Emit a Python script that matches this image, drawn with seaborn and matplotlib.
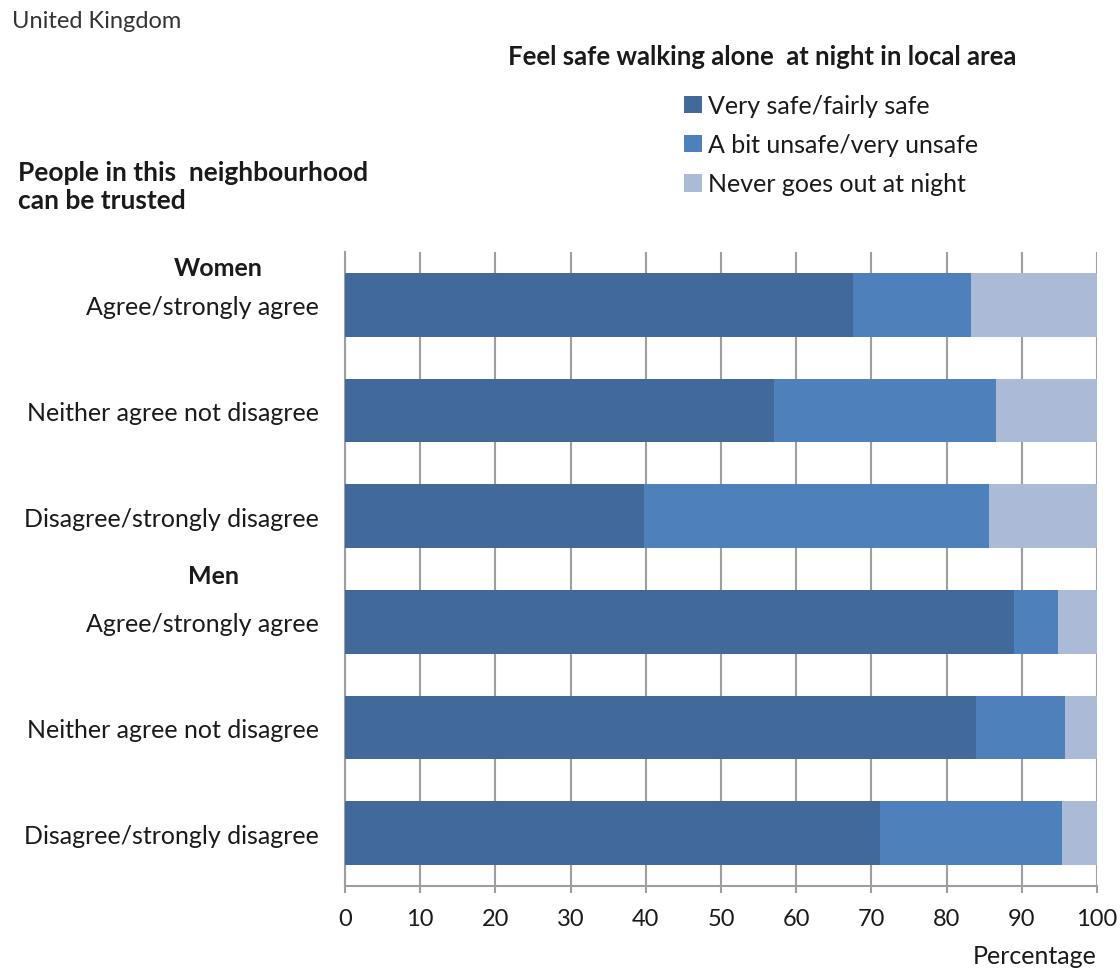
import matplotlib
matplotlib.use("Agg")
import matplotlib.pyplot as plt
import seaborn as sns
import pandas as pd
import numpy as np
from matplotlib.patches import Patch

categories = ["Agree/strongly agree", "Neither agree not disagree", "Disagree/strongly disagree",
              "Agree/strongly agree", "Neither agree not disagree", "Disagree/strongly disagree"]
groups = ["Women", "Women", "Women", "Men", "Men", "Men"]
very_safe = [67.6, 57.0, 39.7, 89.0, 83.9, 71.1]
unsafe = [15.7, 29.6, 46.0, 5.8, 11.9, 24.2]
never_out = [16.7, 13.4, 14.3, 5.2, 4.2, 4.7]
series_names = ["Very safe/fairly safe", "A bit unsafe/very unsafe", "Never goes out at night"]
colors = ["#41699A", "#4E80BC", "#AABAD7"]

sns.set_theme(style="white")
plt.rcParams['font.family'] = ['Lato', 'DejaVu Sans']

keys = [f"{g}-{i}" for i, g in enumerate(groups)]
df = pd.DataFrame({"key": keys, "cat": categories,
                   "s1": very_safe, "s2": unsafe, "s3": never_out})
df["c1"] = df["s1"]
df["c2"] = df["s1"] + df["s2"]
df["c3"] = df["s1"] + df["s2"] + df["s3"]

fig = plt.figure(figsize=(11.2, 9.7), dpi=100)
ax = fig.add_axes([345/1120, (970-887)/970, (1097-345)/1120, (887-253)/970])

for col, c in zip(["c3", "c2", "c1"], colors[::-1]):
    sns.barplot(data=df, x=col, y="key", orient="h", color=c, width=0.6,
                saturation=1, ax=ax, zorder=3, edgecolor="none", linewidth=0)

ax.set_xlim(0, 100)
ax.set_ylim(5.5, -0.5)
ax.set_xticks(np.arange(0, 101, 10))
ax.xaxis.grid(True, color="#9E9E9E", linewidth=1.5, zorder=0)
ax.set_axisbelow(True)
for s in ["top", "right"]:
    ax.spines[s].set_visible(False)
for s in ["left", "bottom"]:
    ax.spines[s].set_color("#9E9E9E")
    ax.spines[s].set_linewidth(1.5)
ax.tick_params(axis="x", bottom=True, length=5, width=1.5, color="#9E9E9E",
               labelsize=17, pad=11, labelcolor="#1a1a1a")
ax.tick_params(axis="y", left=False, length=0, labelsize=18, pad=19, labelcolor="#1a1a1a")
ax.set_yticks(range(len(categories)))
ax.set_yticklabels(categories)
ax.set_xlabel("")
ax.set_ylabel("")

fig.text(1097/1120, 1-957/970, "Percentage", ha="right", va="center", fontsize=18, color="#1a1a1a")

# group labels
fig.text(218/1120, 1-268/970, "Women", ha="center", va="center", fontsize=18,
         fontweight="bold", color="#1a1a1a")
fig.text(214/1120, 1-577/970, "Men", ha="center", va="center", fontsize=18,
         fontweight="bold", color="#1a1a1a")

fig.text(12/1120, 1-22/970, "United Kingdom", ha="left", va="center", fontsize=17, color="#333333")
fig.text(18/1120, 1-187/970, "People in this  neighbourhood\ncan be trusted", ha="left", va="center",
         fontsize=19, fontweight="bold", color="#1a1a1a", linespacing=1.2)
fig.text(508/1120, 1-57/970, "Feel safe walking alone  at night in local area", ha="left", va="center",
         fontsize=18.5, fontweight="bold", color="#1a1a1a")

handles = [Patch(facecolor=c, edgecolor="none") for c in colors]
leg = fig.legend(handles, series_names, loc="upper left", bbox_to_anchor=(674/1120, 1-85/970),
                 frameon=False, fontsize=18, handlelength=0.7, handleheight=0.7,
                 handletextpad=0.25, labelspacing=0.65, borderaxespad=0)
for t in leg.get_texts():
    t.set_color("#1a1a1a")

fig.savefig("out.png", dpi=100)
